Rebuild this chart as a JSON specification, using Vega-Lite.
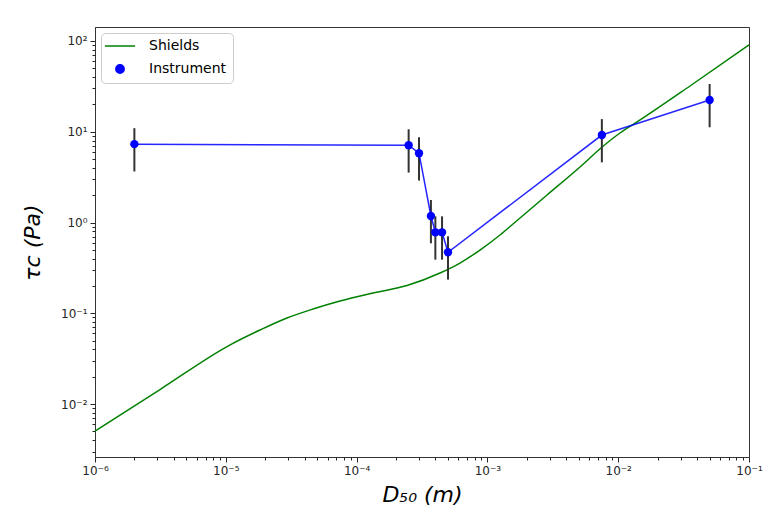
{
  "$schema": "https://vega.github.io/schema/vega-lite/v6.json",
  "width": 654,
  "height": 430,
  "autosize": {"type": "none"},
  "padding": {"left": 95, "top": 27, "right": 20, "bottom": 62},
  "background": "white",
  "config": {
    "font": "DejaVu Sans",
    "view": {"stroke": "#333333", "strokeWidth": 1},
    "axis": {
      "labelFont": "DejaVu Sans",
      "labelFontSize": 12,
      "labelColor": "#262626",
      "labelFlush": false,
      "labelOverlap": false,
      "tickColor": "#262626",
      "domainColor": "#333333",
      "grid": false,
      "tickSize": 5,
      "labelPadding": 3,
      "titleFont": "DejaVu Sans",
      "titleFontSize": 22,
      "titleFontStyle": "italic",
      "titleFontWeight": "normal",
      "titleColor": "black"
    },
    "legend": {
      "labelFont": "DejaVu Sans",
      "labelFontSize": 14,
      "labelColor": "black",
      "symbolSize": 900
    }
  },
  "datasets": {
    "shields": [
      {"d": 1e-6, "tau": 0.00504, "series": "Shields"},
      {"d": 3.139e-6, "tau": 0.014445, "series": "Shields"},
      {"d": 1.0394e-5, "tau": 0.04357, "series": "Shields"},
      {"d": 1.826e-5, "tau": 0.06536, "series": "Shields"},
      {"d": 2.936e-5, "tau": 0.08864, "series": "Shields"},
      {"d": 4.642e-5, "tau": 0.11137, "series": "Shields"},
      {"d": 7.464e-5, "tau": 0.13646, "series": "Shields"},
      {"d": 1.3345e-4, "tau": 0.16714, "series": "Shields"},
      {"d": 2.428e-4, "tau": 0.2023, "series": "Shields"},
      {"d": 4.342e-4, "tau": 0.2777, "series": "Shields"},
      {"d": 6.172e-4, "tau": 0.35785, "series": "Shields"},
      {"d": 8.779e-4, "tau": 0.4977, "series": "Shields"},
      {"d": 1.2484e-3, "tau": 0.7293, "series": "Shields"},
      {"d": 1.5693e-3, "tau": 0.9634, "series": "Shields"},
      {"d": 2.856e-3, "tau": 2.009, "series": "Shields"},
      {"d": 5.105e-3, "tau": 4.089, "series": "Shields"},
      {"d": 7.386e-3, "tau": 6.622, "series": "Shields"},
      {"d": 1.0323e-2, "tau": 9.687, "series": "Shields"},
      {"d": 1.392e-2, "tau": 12.81, "series": "Shields"},
      {"d": 3.539e-2, "tau": 31.92, "series": "Shields"},
      {"d": 0.1, "tau": 90.35, "series": "Shields"}
    ],
    "instrument": [
      {"d": 2e-6, "tau": 7.3, "lo": 3.65, "hi": 10.95, "series": "Instrument"},
      {"d": 2.5e-4, "tau": 7.1, "lo": 3.55, "hi": 10.65, "series": "Instrument"},
      {"d": 3e-4, "tau": 5.8, "lo": 2.9, "hi": 8.7, "series": "Instrument"},
      {"d": 3.7e-4, "tau": 1.18, "lo": 0.59, "hi": 1.77, "series": "Instrument"},
      {"d": 4e-4, "tau": 0.78, "lo": 0.39, "hi": 1.17, "series": "Instrument"},
      {"d": 4.5e-4, "tau": 0.78, "lo": 0.39, "hi": 1.17, "series": "Instrument"},
      {"d": 5e-4, "tau": 0.47, "lo": 0.235, "hi": 0.705, "series": "Instrument"},
      {"d": 7.5e-3, "tau": 9.2, "lo": 4.6, "hi": 13.8, "series": "Instrument"},
      {"d": 0.05, "tau": 22.4, "lo": 11.2, "hi": 33.6, "series": "Instrument"}
    ]
  },
  "resolve": {"axis": {"x": "independent", "y": "independent"}},
  "layer": [
    {
      "data": {"name": "shields"},
      "mark": {"type": "line", "strokeWidth": 1.5, "interpolate": "monotone"},
      "encoding": {
        "x": {
          "field": "d", "type": "quantitative",
          "scale": {"type": "log", "domain": [1e-6, 0.1], "nice": false},
          "axis": {
            "orient": "bottom",
            "title": "D₅₀ (m)",
            "titlePadding": 8,
            "values": [1e-6, 1e-5, 1e-4, 1e-3, 1e-2, 1e-1],
            "labelExpr": "datum.value < 5e-6 ? '10⁻⁶' : datum.value < 5e-5 ? '10⁻⁵' : datum.value < 5e-4 ? '10⁻⁴' : datum.value < 5e-3 ? '10⁻³' : datum.value < 5e-2 ? '10⁻²' : '10⁻¹'"
          }
        },
        "y": {
          "field": "tau", "type": "quantitative",
          "scale": {"type": "log", "domain": [0.00261, 142.6], "nice": false},
          "axis": {
            "orient": "left",
            "title": "τc (Pa)",
            "titlePadding": 16,
            "values": [0.01, 0.1, 1, 10, 100],
            "labelExpr": "datum.value < 0.05 ? '10⁻²' : datum.value < 0.5 ? '10⁻¹' : datum.value < 5 ? '10⁰' : datum.value < 50 ? '10¹' : '10²'"
          }
        },
        "color": {
          "field": "series", "type": "nominal",
          "scale": {"domain": ["Shields", "Instrument"], "range": ["#008000", "#0000ff"]},
          "legend": {
            "title": null,
            "orient": "top-left",
            "offset": 6,
            "padding": 6,
            "fillColor": "white",
            "strokeColor": "#cccccc",
            "cornerRadius": 4,
            "symbolSize": 900,
            "symbolOffset": 6,
            "labelOffset": 22,
            "rowPadding": 8,
            "encode": {
              "symbols": {
                "update": {
                  "shape": {"signal": "datum.value === 'Shields' ? 'stroke' : 'circle'"},
                  "size": {"signal": "datum.value === 'Shields' ? 900 : 70"},
                  "fill": {"signal": "datum.value === 'Shields' ? 'transparent' : '#0000ff'"},
                  "stroke": {"signal": "datum.value === 'Shields' ? '#008000' : 'transparent'"},
                  "strokeWidth": {"value": 1.5},
                  "opacity": {"value": 1}
                }
              }
            }
          }
        }
      }
    },
    {
      "data": {"name": "instrument"},
      "mark": {"type": "rule", "color": "#333333", "strokeWidth": 2},
      "encoding": {
        "x": {
          "field": "d", "type": "quantitative",
          "scale": {"type": "log", "domain": [1e-6, 0.1], "nice": false},
          "axis": {
            "orient": "bottom", "title": null, "labels": false, "domain": false, "tickSize": 3,
            "values": [2e-6,3e-6,4e-6,5e-6,6e-6,7e-6,8e-6,9e-6,2e-5,3e-5,4e-5,5e-5,6e-5,7e-5,8e-5,9e-5,2e-4,3e-4,4e-4,5e-4,6e-4,7e-4,8e-4,9e-4,2e-3,3e-3,4e-3,5e-3,6e-3,7e-3,8e-3,9e-3,2e-2,3e-2,4e-2,5e-2,6e-2,7e-2,8e-2,9e-2]
          }
        },
        "y": {
          "field": "lo", "type": "quantitative",
          "scale": {"type": "log", "domain": [0.00261, 142.6], "nice": false},
          "axis": {
            "orient": "left", "title": null, "labels": false, "domain": false, "tickSize": 3,
            "values": [0.003,0.004,0.005,0.006,0.007,0.008,0.009,0.02,0.03,0.04,0.05,0.06,0.07,0.08,0.09,0.2,0.3,0.4,0.5,0.6,0.7,0.8,0.9,2,3,4,5,6,7,8,9,20,30,40,50,60,70,80,90]
          }
        },
        "y2": {"field": "hi"}
      }
    },
    {
      "data": {"name": "instrument"},
      "mark": {"type": "line", "strokeWidth": 1.5, "opacity": 0.85},
      "encoding": {
        "x": {"field": "d", "type": "quantitative", "scale": {"type": "log", "domain": [1e-6, 0.1], "nice": false}, "axis": null},
        "y": {"field": "tau", "type": "quantitative", "scale": {"type": "log", "domain": [0.00261, 142.6], "nice": false}, "axis": null},
        "color": {"field": "series", "type": "nominal"}
      }
    },
    {
      "data": {"name": "instrument"},
      "mark": {"type": "point", "filled": true, "size": 70, "opacity": 1},
      "encoding": {
        "x": {"field": "d", "type": "quantitative", "scale": {"type": "log", "domain": [1e-6, 0.1], "nice": false}, "axis": null},
        "y": {"field": "tau", "type": "quantitative", "scale": {"type": "log", "domain": [0.00261, 142.6], "nice": false}, "axis": null},
        "color": {"field": "series", "type": "nominal"}
      }
    }
  ]
}
